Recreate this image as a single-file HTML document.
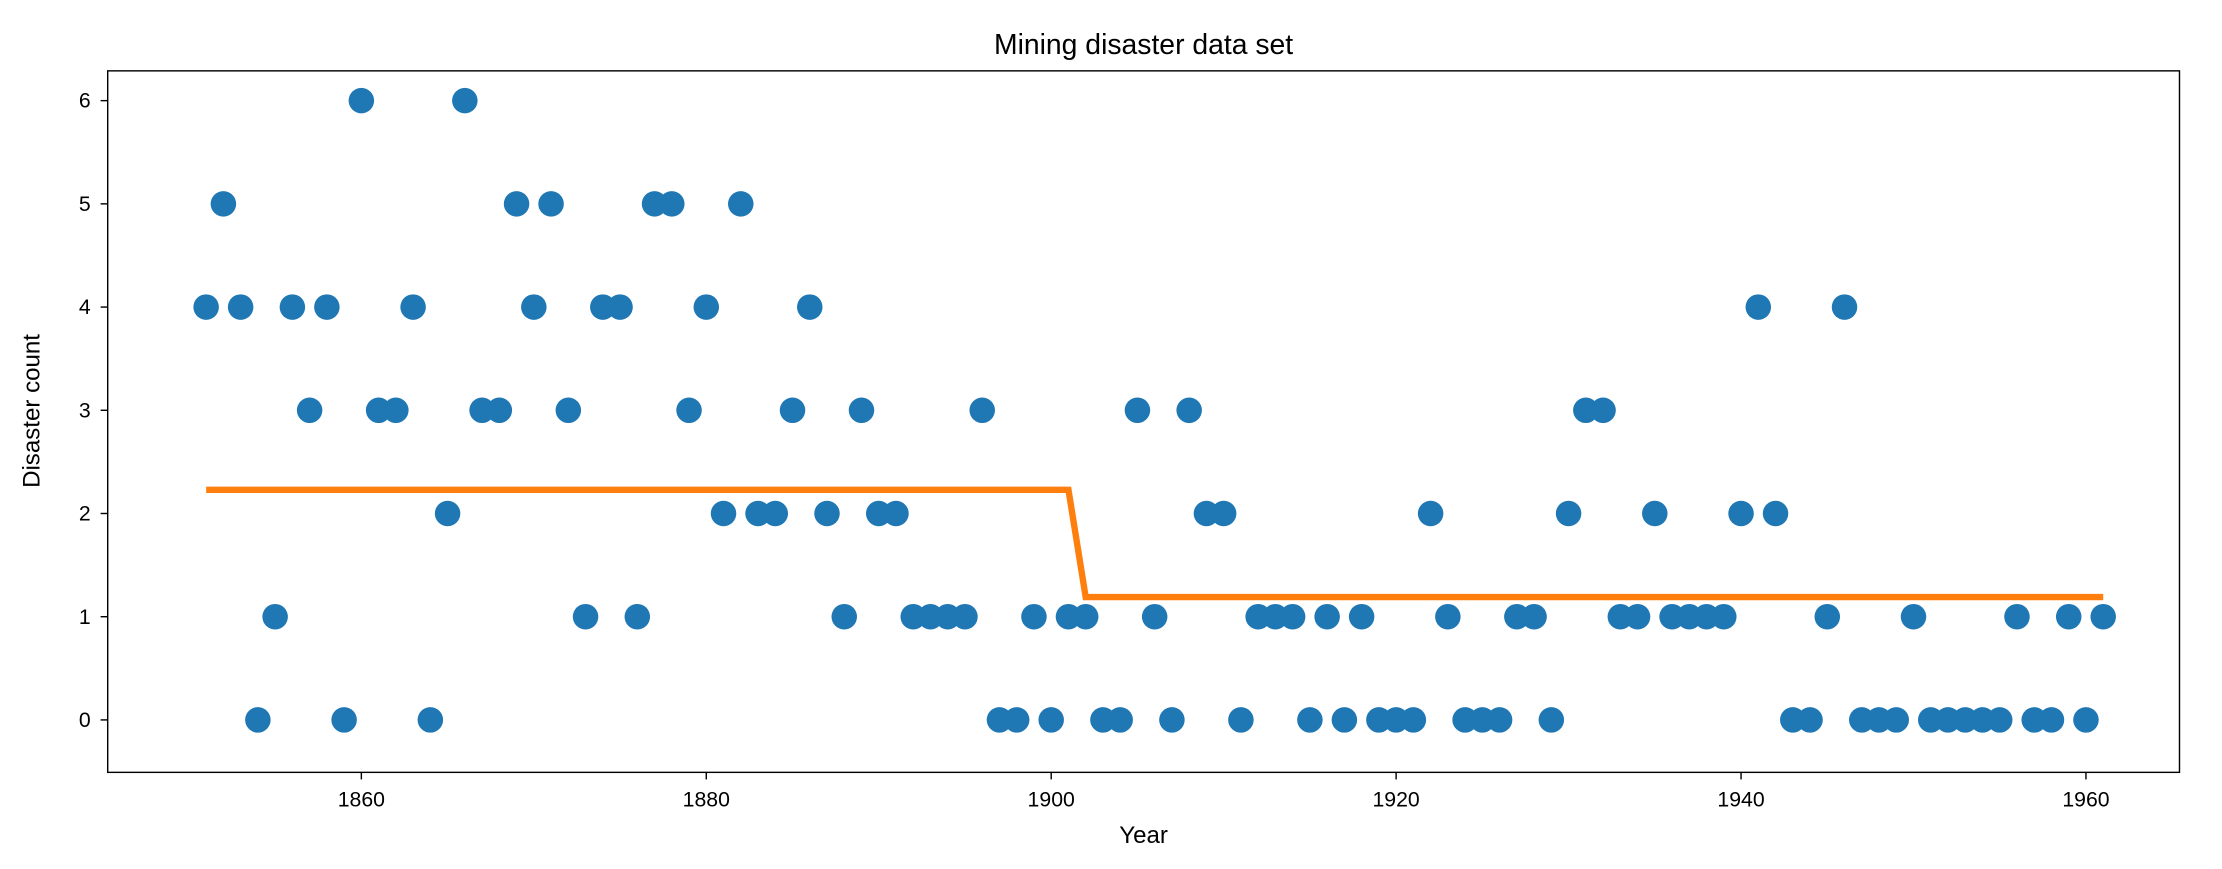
<!DOCTYPE html>
<html><head><meta charset="utf-8"><style>
body{margin:0;background:#fff;}
svg{display:block;}
svg text{font-family:"Liberation Sans","DejaVu Sans",sans-serif;fill:#000;}
</style></head><body>
<svg id="chart" width="2222" height="869" viewBox="0 0 1568 613.2" preserveAspectRatio="none" xmlns="http://www.w3.org/2000/svg">
<rect width="1568" height="613.2" fill="#fff"/>
<text x="807" y="38" font-size="20" text-anchor="middle">Mining disaster data set</text>
<text x="807" y="595" font-size="17" text-anchor="middle">Year</text>
<text transform="translate(28,290) rotate(-90)" font-size="17" text-anchor="middle">Disaster count</text>
<g id="marks"></g>
<rect x="76" y="50" width="1462" height="495" fill="none" stroke="#000" stroke-width="1"/>
</svg>
<script>
const startYear = 1851;
const counts = [4,5,4,0,1,4,3,4,0,6,3,3,4,0,2,6,3,3,5,4,5,3,1,4,4,1,5,5,3,4,2,5,2,2,3,4,2,1,3,2,2,1,1,1,1,3,0,0,1,0,1,1,0,0,3,1,0,3,2,2,0,1,1,1,0,1,0,1,0,0,0,2,1,0,0,0,1,1,0,2,3,3,1,1,2,1,1,1,1,2,4,2,0,0,1,4,0,0,0,1,0,0,0,0,0,1,0,0,1,0,1];
const rateYears = [1851,1901,1902,1961];
const rateValues = [2.23,2.23,1.19,1.19];
const xTicks = [1860,1880,1900,1920,1940,1960];
const yTicks = [0,1,2,3,4,5,6];

const NS="http://www.w3.org/2000/svg";
const X = y => 255 + (y-1860)*12.17;
const Y = v => 508 - v*72.83;
const g = document.getElementById('marks');
function mk(t,a){const e=document.createElementNS(NS,t);for(const k in a)e.setAttribute(k,a[k]);g.appendChild(e);return e;}

xTicks.forEach(t=>{
  const l=mk('line',{x1:X(t),x2:X(t),y1:545,y2:550,stroke:'#000','stroke-width':1});
  
  
  const tx=mk('text',{x:X(t),y:569,'font-size':15,'text-anchor':'middle'});tx.textContent=t;
  
  
});
yTicks.forEach(t=>{
  const l=mk('line',{x1:71,x2:76,y1:Y(t),y2:Y(t),stroke:'#000','stroke-width':1});
  
  
  const tx=mk('text',{x:64,y:Y(t)+5,'font-size':15,'text-anchor':'end'});tx.textContent=t;
  
  
});
counts.forEach((v,i)=>{
  const c=mk('circle',{cx:X(startYear+i),cy:Y(v),r:9,fill:'#1f77b4'});
  
  
});
const p=mk('polyline',{points:rateYears.map((y,i)=>X(y)+','+Y(rateValues[i])).join(' '),fill:'none',stroke:'#ff7f0e','stroke-width':4.5});


</script>
</body></html>
